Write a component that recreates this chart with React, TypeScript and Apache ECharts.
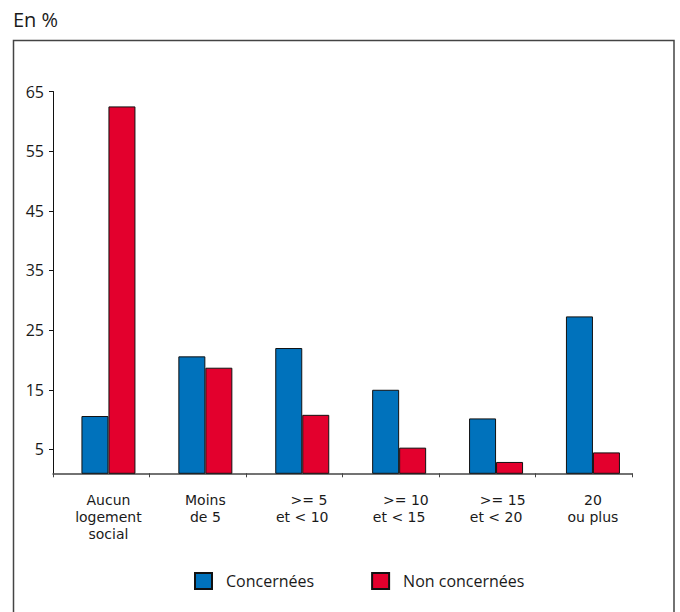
import React, { useEffect, useRef } from "react";
import * as echarts from "echarts";

const categories = [
  "Aucun\nlogement\nsocial",
  "Moins\nde 5",
  "   >= 5\net < 10",
  "   >= 10\net < 15",
  "   >= 15\net < 20",
  "20\nou plus",
];
const concernees = [10.6, 20.6, 22.0, 15.0, 10.2, 27.3];
const nonConcernees = [62.5, 18.7, 10.8, 5.3, 2.9, 4.5];
const yTicks = [5, 15, 25, 35, 45, 55, 65];
const seriesNames = ["Concernées", "Non concernées"];
const unitLabel = "En %";

const FONT = "'Open Sans', 'DejaVu Sans', sans-serif";
const CAT_FONT = "'DejaVu Sans', sans-serif";
const TEXT = "#1a1a1a";

export default function App() {
  const ref = useRef<HTMLDivElement>(null);
  useEffect(() => {
    document.body.style.margin = "0";
    const chart = echarts.init(ref.current!, null, { renderer: "svg" });
    const yMin = 1;
    const yMax = 65;
    const gridTop = 91.5;
    const gridBottom = 138.7;
    chart.setOption({
      animation: false,
      textStyle: { fontFamily: FONT, color: TEXT },
      title: {
        text: unitLabel,
        left: 13,
        top: 9,
        padding: 0,
        textStyle: { fontFamily: FONT, fontSize: 20, fontWeight: "normal", color: TEXT },
      },
      graphic: [
        {
          type: "rect",
          shape: { x: 13.5, y: 40.5, width: 660.5, height: 620 },
          style: { fill: "none", stroke: "#444", lineWidth: 1.5 },
          silent: true,
        },
      ],
      legend: {
        data: seriesNames,
        left: 194,
        top: 572,
        padding: 0,
        itemWidth: 17,
        itemHeight: 16,
        itemGap: 57,
        icon: "rect",
        textStyle: { fontFamily: FONT, fontSize: 16, color: TEXT, padding: [0, 0, 0, 9] },
      },
      grid: [
        { left: 53, right: 48, top: gridTop, bottom: gridBottom },
        { left: 60, right: 38.6, top: gridTop, bottom: gridBottom },
      ],
      xAxis: [
        {
          type: "category",
          gridIndex: 0,
          data: categories,
          boundaryGap: true,
          axisLine: { onZero: false, lineStyle: { color: "#444", width: 1.5 } },
          axisTick: { show: true, length: 4, lineStyle: { color: "#444" } },
          axisLabel: { show: false },
        },
        {
          type: "category",
          gridIndex: 1,
          data: categories,
          axisLine: { show: false },
          axisTick: { show: false },
          axisLabel: {
            show: true,
            margin: 18,
            fontFamily: CAT_FONT,
            fontSize: 14,
            lineHeight: 17,
            color: TEXT,
            interval: 0,
          },
        },
      ],
      yAxis: [
        {
          type: "value",
          gridIndex: 0,
          min: yMin,
          max: yMax,
          splitLine: { show: false },
          axisLine: { show: true, lineStyle: { color: "#111", width: 1 } },
          axisTick: { show: true, length: 4, customValues: yTicks, lineStyle: { color: "#111" } },
          axisLabel: {
            customValues: yTicks,
            margin: 9,
            fontFamily: FONT,
            fontSize: 16,
            color: TEXT,
          },
        },
        {
          type: "value",
          gridIndex: 1,
          min: yMin,
          max: yMax,
          show: false,
          splitLine: { show: false },
        },
      ],
      series: [
        {
          name: seriesNames[0],
          type: "bar",
          xAxisIndex: 1,
          yAxisIndex: 1,
          data: concernees,
          barWidth: 27,
          barGap: "0%",
          itemStyle: { color: "#0072BC", borderColor: "#111", borderWidth: 1 },
        },
        {
          name: seriesNames[1],
          type: "bar",
          xAxisIndex: 1,
          yAxisIndex: 1,
          data: nonConcernees,
          barWidth: 27,
          barGap: "0%",
          itemStyle: { color: "#E3002D", borderColor: "#111", borderWidth: 1 },
        },
      ],
    });
    return () => chart.dispose();
  }, []);
  return <div ref={ref} style={{ width: 680, height: 612 }} />;
}
